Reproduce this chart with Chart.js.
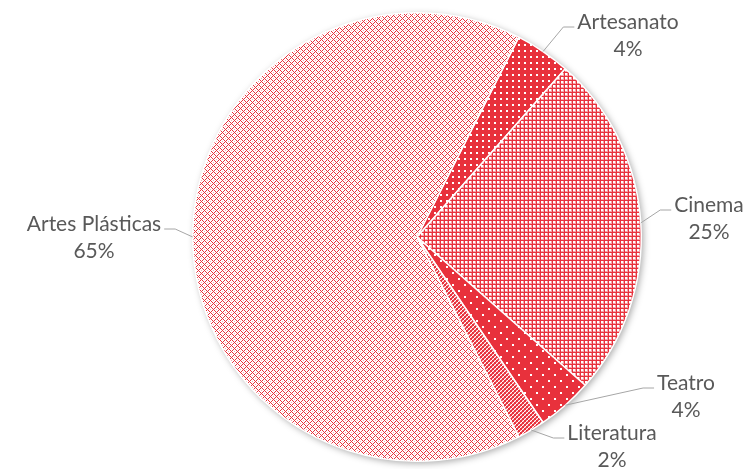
<!DOCTYPE html>
<html>
<head>
<meta charset="utf-8">
<script src="https://cdn.jsdelivr.net/npm/chart.js@4"></script>
<style>
  html, body { margin: 0; padding: 0; background: #ffffff; }
  #wrap { width: 747px; height: 469px; }
</style>
</head>
<body>
<div id="wrap"><canvas id="pie"></canvas></div>
<script>
// data
const categories = ["Artesanato", "Cinema", "Teatro", "Literatura", "Artes Plásticas"];
const percents = [4, 25, 4, 2, 65];
const pctLabels = ["4%", "25%", "4%", "2%", "65%"];

const RED = "#E8313C";

// pattern tiles
function tile(w, h, bg, draw) {
  const c = document.createElement("canvas");
  c.width = w;
  c.height = h;
  const g = c.getContext("2d");
  g.fillStyle = bg;
  g.fillRect(0, 0, w, h);
  draw(g);
  return g.createPattern(c, "repeat");
}

const ctx = document.getElementById("pie").getContext("2d");

// Artesanato: red with white dots
const patArtesanato = tile(6, 6, RED, (g) => {
  g.fillStyle = "#ffffff";
  g.fillRect(2, 2, 2, 2);
});
// Cinema: small white squares on red grid
const patCinema = tile(4, 4, RED, (g) => {
  g.fillStyle = "rgba(255,255,255,0.55)";
  g.fillRect(1, 1, 3, 3);
  g.fillStyle = "#ffffff";
  g.fillRect(1, 1, 2, 2);
});
// Teatro: sparse white dots
const patTeatro = tile(12, 12, RED, (g) => {
  g.fillStyle = "#ffffff";
  g.fillRect(2, 2, 2, 2);
  g.fillRect(8, 8, 2, 2);
});
// Literatura: checker
const patLiteratura = tile(4, 4, "#ffffff", (g) => {
  g.fillStyle = RED;
  g.fillRect(0, 0, 2, 2);
  g.fillRect(2, 2, 2, 2);
  g.fillStyle = "rgba(232,49,60,0.6)";
  g.fillRect(2, 0, 1, 1);
  g.fillRect(0, 2, 1, 1);
  g.fillRect(3, 1, 1, 1);
  g.fillRect(1, 3, 1, 1);
});
// Artes Plásticas: light lattice
const patArtes = tile(6, 6, "#ffffff", (g) => {
  for (let x = 0; x < 6; x++) {
    for (let y = 0; y < 6; y++) {
      if ((x + y) % 6 == 0 || (x - y + 6) % 6 == 0) {
        g.fillStyle = RED;
        g.fillRect(x, y, 1, 1);
      } else if ((x + y) % 6 == 3 && x % 3 == 0) {
        g.fillStyle = "rgba(232,49,60,0.4)";
        g.fillRect(x, y, 1, 1);
      }
    }
  }
});

// label layout (text centre of first line)
const labelLayout = [
  { x: 628, y: 22, side: "right" },
  { x: 709, y: 205, side: "right" },
  { x: 686, y: 383, side: "right" },
  { x: 612, y: 433, side: "right" },
  { x: 94, y: 224, side: "left" },
];

const FONT = "21px Lato, 'Open Sans', sans-serif";

const shadowPlugin = {
  id: "pieShadow",
  beforeDatasetsDraw(chart) {
    const arc = chart.getDatasetMeta(0).data[0];
    const c = chart.ctx;
    c.save();
    c.shadowColor = "rgba(0,0,0,0.35)";
    c.shadowBlur = 7;
    c.shadowOffsetX = 2;
    c.shadowOffsetY = 2;
    c.fillStyle = "#ffffff";
    c.beginPath();
    c.arc(arc.x, arc.y, arc.outerRadius, 0, Math.PI * 2);
    c.fill();
    c.restore();
  },
};

const labelPlugin = {
  id: "outsideLabels",
  afterDatasetsDraw(chart) {
    const c = chart.ctx;
    const arcs = chart.getDatasetMeta(0).data;
    c.save();
    c.font = FONT;
    c.textBaseline = "middle";
    arcs.forEach((arc, i) => {
      const pos = labelLayout[i];
      const mid = (arc.startAngle + arc.endAngle) / 2;
      const sx = arc.x + Math.cos(mid) * arc.outerRadius;
      const sy = arc.y + Math.sin(mid) * arc.outerRadius;
      const w = c.measureText(categories[i]).width;
      const ly = pos.y + 5;
      let ex, bx;
      if (pos.side == "right") {
        ex = pos.x - w / 2 - 3;
        bx = ex - 11;
      } else {
        ex = pos.x + w / 2 + 3;
        bx = ex + 11;
      }
      c.strokeStyle = "#A6A6A6";
      c.lineWidth = 1;
      c.beginPath();
      c.moveTo(sx, sy);
      c.lineTo(bx, ly);
      c.lineTo(ex, ly);
      c.stroke();

      c.fillStyle = "#595959";
      c.textAlign = "center";
      c.fillText(categories[i], pos.x, pos.y);
      c.fillText(pctLabels[i], pos.x, pos.y + 27);
    });
    c.restore();
  },
};

const pieChart = new Chart(ctx, {
  type: "pie",
  data: {
    labels: categories,
    datasets: [
      {
        data: percents,
        backgroundColor: [patArtesanato, patCinema, patTeatro, patLiteratura, patArtes],
        borderColor: "#ffffff",
        borderWidth: 1.5,
      },
    ],
  },
  options: {
    responsive: true,
    maintainAspectRatio: false,
    animation: false,
    rotation: 27,
    layout: {
      padding: { left: 192, right: 105, top: 12, bottom: 7 },
    },
    plugins: {
      legend: { display: false },
      tooltip: { enabled: false },
    },
  },
  plugins: [shadowPlugin, labelPlugin],
});
</script>
</body>
</html>
